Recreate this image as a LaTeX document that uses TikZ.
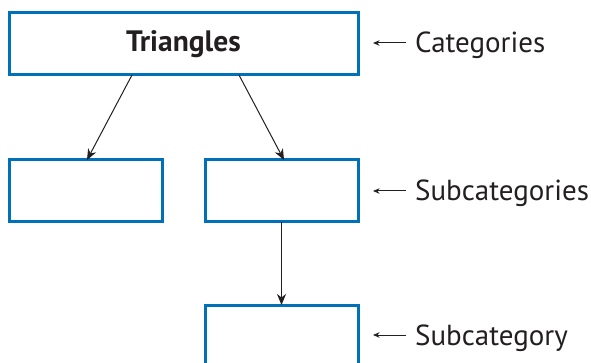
\documentclass[tikz,border=0pt]{standalone}
\usepackage{fontspec}
\setmainfont{PT Sans}
\usetikzlibrary{arrows.meta,calc}
\definecolor{boxblue}{RGB}{0,112,185}
\definecolor{inkgray}{RGB}{35,31,32}
\tikzset{
  catbox/.style={draw=boxblue, line width=3pt, minimum width=#1, minimum height=62pt,
    inner sep=0pt, outer sep=0pt, anchor=center},
  catbox/.default=153pt,
  link/.style={draw=inkgray, line width=1pt, -{Stealth[length=11pt,width=9pt,inset=3.5pt]}},
  tag/.style={anchor=base west, inner sep=0pt, text=inkgray, font=\fontsize{29}{32}\selectfont},
  pointer/.style={draw=inkgray, line width=1pt, -{Stealth[length=6.5pt,width=5.5pt,inset=2pt]}},
}
\begin{document}
\begin{tikzpicture}[x=1pt,y=-1pt]
  \useasboundingbox (0,0) rectangle (591,363);
  \clip (0,0) rectangle (591,363);
  % hierarchy boxes
  \node[catbox=349pt, font=\bfseries\fontsize{29.5}{32}\selectfont, text=inkgray] (top) at (183.5,44) {Triangles};
  \node[catbox] (left) at (85.5,191) {};
  \node[catbox] (right) at (281.5,191) {};
  \node[catbox] (bottom) at (281.5,336) {};
  % connectors between levels
  \draw[link] ([xshift=-51.5pt]top.south) -- ([xshift=1.5pt]left.north);
  \draw[link] ([xshift=55.5pt]top.south) -- ([xshift=2.5pt]right.north);
  \draw[link] (right.south) -- (bottom.north);
  % level labels
  \node[tag] (lcat) at (415,53) {Categories};
  \node[tag] (lsubs) at (415,201) {Subcategories};
  \node[tag] (lsub) at (415,345) {Subcategory};
  \coordinate (pcat) at (373,43);
  \coordinate (psubs) at (373,191);
  \coordinate (psub) at (373,335);
  \draw[pointer] (406,43) -- (pcat);
  \draw[pointer] (406,191) -- (psubs);
  \draw[pointer] (406,335) -- (psub);
\end{tikzpicture}
\end{document}
